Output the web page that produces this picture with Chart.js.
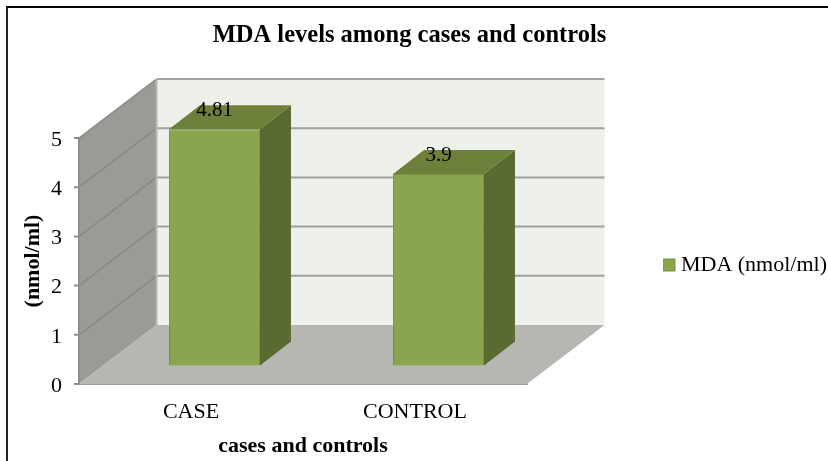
<!DOCTYPE html>
<html>
<head>
<meta charset="utf-8">
<title>MDA levels among cases and controls</title>
<script src="https://cdn.jsdelivr.net/npm/chart.js@4"></script>
<style>
  html,body { margin:0; padding:0; background:#fff; }
  #marco { position:absolute; left:6px; top:6px; width:822px; height:455px; border-top:2px solid #000; border-left:2px solid #222; box-sizing:border-box; }
  #grafico { position:absolute; left:0; top:0; }
</style>
</head>
<body>
<div id="marco"></div>
<canvas id="grafico" width="828" height="461"></canvas>
<script>
// datos
const categorias = ['CASE', 'CONTROL'];
const valoresMDA = [4.81, 3.9];
const etiquetaSerie = 'MDA (nmol/ml)';
const tituloGrafico = 'MDA levels among cases and controls';
const tituloX = 'cases and controls';
const tituloY = '(nmol/ml)';

const FUENTE = '"Liberation Serif", "Times New Roman", serif';
// profundidad de la caja 3D y de las barras
const FONDO_DX = 77.5, FONDO_DY = -59;
const BARRA_OFF_X = 23.5, BARRA_OFF_Y = -18;
const BARRA_DX = 31, BARRA_DY = -24;

function poligono(ctx, puntos, relleno) {
  ctx.beginPath();
  puntos.forEach((p, i) => i ? ctx.lineTo(p[0], p[1]) : ctx.moveTo(p[0], p[1]));
  ctx.closePath();
  ctx.fillStyle = relleno;
  ctx.fill();
}

const caja3D = {
  id: 'caja3D',
  afterLayout(chart) {
    // leyenda fuera del area del grafico, titulo centrado en 409
    const l = chart.legend;
    l.left = 663; l.right = 827; l.top = 254; l.bottom = 282;
    chart.titleBlock.left = 0; chart.titleBlock.right = 819;
  },
  beforeDatasetsDraw(chart) {
    const { ctx, chartArea: a, scales: { y } } = chart;
    const abajo = y.getPixelForValue(0), arriba = y.getPixelForValue(5);
    ctx.save();
    // pared del fondo, pared izquierda y piso
    poligono(ctx, [[a.left + FONDO_DX, arriba + FONDO_DY], [a.right + FONDO_DX, arriba + FONDO_DY], [a.right + FONDO_DX, abajo + FONDO_DY], [a.left + FONDO_DX, abajo + FONDO_DY]], '#EEF1EB');
    poligono(ctx, [[a.left, arriba], [a.left + FONDO_DX, arriba + FONDO_DY], [a.left + FONDO_DX, abajo + FONDO_DY], [a.left, abajo]], '#9A9B94');
    poligono(ctx, [[a.left, abajo], [a.right, abajo], [a.right + FONDO_DX, abajo + FONDO_DY], [a.left + FONDO_DX, abajo + FONDO_DY]], '#B5B7B0');
    // lineas de division
    y.ticks.forEach(t => {
      if (t.value === 0) return;
      const py = y.getPixelForValue(t.value);
      ctx.beginPath();
      ctx.moveTo(a.left, py);
      ctx.lineTo(a.left + FONDO_DX, py + FONDO_DY);
      ctx.strokeStyle = '#88897F';
      ctx.lineWidth = 1.5;
      ctx.stroke();
      ctx.beginPath();
      ctx.moveTo(a.left + FONDO_DX, py + FONDO_DY);
      ctx.lineTo(a.right + FONDO_DX, py + FONDO_DY);
      ctx.strokeStyle = '#A0A0A0';
      ctx.lineWidth = 2;
      ctx.stroke();
    });
    // borde entre pared izquierda y fondo
    ctx.beginPath();
    ctx.moveTo(a.left + FONDO_DX, arriba + FONDO_DY);
    ctx.lineTo(a.left + FONDO_DX, abajo + FONDO_DY);
    ctx.strokeStyle = '#B4B6B0';
    ctx.lineWidth = 2;
    ctx.stroke();
    // eje y y marcas: van encima de las paredes
    ctx.strokeStyle = '#8E8E8E';
    ctx.lineWidth = 2;
    ctx.beginPath();
    ctx.moveTo(a.left, arriba);
    ctx.lineTo(a.left, abajo);
    y.ticks.forEach(t => {
      const py = y.getPixelForValue(t.value);
      ctx.moveTo(a.left - 5, py);
      ctx.lineTo(a.left, py);
    });
    ctx.stroke();
    ctx.restore();
  },
  beforeDatasetDraw(chart) {
    // la cara frontal la dibuja la propia libreria, desplazada hacia el fondo
    chart.ctx.save();
    chart.ctx.translate(BARRA_OFF_X, BARRA_OFF_Y);
  },
  afterDatasetDraw(chart, args) {
    const { ctx } = chart;
    ctx.restore();
    args.meta.data.forEach(b => {
      const der = b.x + b.width / 2 + BARRA_OFF_X, izq = b.x - b.width / 2 + BARRA_OFF_X;
      const tope = b.y + BARRA_OFF_Y, base = b.base + BARRA_OFF_Y;
      poligono(ctx, [[der, tope], [der + BARRA_DX, tope + BARRA_DY], [der + BARRA_DX, base + BARRA_DY], [der, base]], '#5A6B32');
      poligono(ctx, [[izq, tope], [izq + BARRA_DX, tope + BARRA_DY], [der + BARRA_DX, tope + BARRA_DY], [der, tope]], '#6D8039');
    });
  },
  afterDatasetsDraw(chart) {
    const { ctx } = chart;
    const barras = chart.getDatasetMeta(0).data;
    ctx.save();
    ctx.font = '21px ' + FUENTE;
    ctx.fillStyle = '#000';
    ctx.textAlign = 'center';
    ctx.textBaseline = 'middle';
    barras.forEach((b, i) => {
      ctx.fillText(String(valoresMDA[i]), b.x + BARRA_OFF_X, b.y + BARRA_OFF_Y - 19);
    });
    ctx.restore();
  }
};

new Chart(document.getElementById('grafico').getContext('2d'), {
  type: 'bar',
  data: {
    labels: categorias,
    datasets: [{
      label: etiquetaSerie,
      data: valoresMDA,
      backgroundColor: '#8AA54D',
      borderColor: '#77933C',
      borderWidth: 1,
      categoryPercentage: 1,
      barPercentage: 0.406,
      clip: false
    }]
  },
  plugins: [caja3D],
  options: {
    responsive: false,
    animation: false,
    layout: { padding: { right: 301 } },
    plugins: {
      tooltip: { enabled: false },
      title: {
        display: true,
        text: tituloGrafico,
        color: '#000',
        font: { family: FUENTE, size: 24.5, weight: 'bold' },
        padding: { top: 21, bottom: 87.6 }
      },
      legend: {
        position: 'chartArea',
        align: 'start',
        labels: {
          boxWidth: 12,
          boxHeight: 12,
          padding: 0,
          color: '#000',
          textAlign: 'right',
          font: { family: FUENTE, size: 22 }
        }
      }
    },
    scales: {
      x: {
        afterFit(s) { s.height = 77; },
        grid: { display: false },
        border: { display: true, color: '#9A9A9A', width: 2 },
        ticks: { color: '#000', padding: 7, font: { family: FUENTE, size: 22 }, maxRotation: 0 },
        title: {
          display: true,
          text: tituloX,
          color: '#000',
          font: { family: FUENTE, size: 22, weight: 'bold' },
          padding: { top: 0, bottom: 1 }
        }
      },
      y: {
        min: 0,
        max: 5,
        afterFit(s) { s.width = 79; },
        grid: { drawOnChartArea: false, drawTicks: false },
        border: { display: false },
        ticks: { stepSize: 1, color: '#000', padding: 17, labelOffset: 2, font: { family: FUENTE, size: 22 } },
        title: {
          display: true,
          text: tituloY,
          color: '#000',
          font: { family: FUENTE, size: 22, weight: 'bold' },
          padding: { top: 20, bottom: 0 }
        }
      }
    }
  }
});
</script>
</body>
</html>
